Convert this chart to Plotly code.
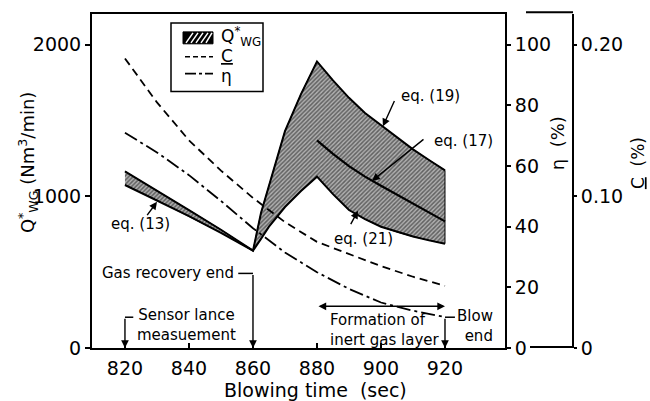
import plotly.graph_objects as go

# ---------------- data ----------------
# eq.(13) band, 820-860 s  [Nm3/min]
t13 = [820, 830, 840, 850, 860]
q13_upper = [1165, 1040, 910, 780, 642]
q13_lower = [1075, 975, 870, 760, 642]
# rising band after gas recovery end, 860-880 s
t_rise = [860, 862.5, 865, 870, 875, 880]
q_rise_upper = [642, 890, 1075, 1430, 1675, 1890]
q_rise_lower = [642, 720, 800, 930, 1035, 1130]
# band during inert gas layer formation, 880-920 s
t_post = [880, 885, 890, 895, 900, 905, 910, 915, 920]
q19 = [1890, 1765, 1650, 1550, 1470, 1395, 1310, 1240, 1172]
q17 = [1370, 1280, 1200, 1130, 1070, 1010, 950, 890, 835]
q21 = [1130, 1015, 910, 850, 800, 765, 735, 710, 688]
# C (%) and eta (%)
t_line = [820, 830, 840, 850, 860, 870, 880, 890, 900, 910, 920]
c_pct = [0.191, 0.162, 0.137, 0.117, 0.099, 0.083, 0.070, 0.062, 0.054, 0.047, 0.041]
eta_pct = [71, 64.5, 57, 48.5, 39.5, 31.5, 25, 19.5, 15, 12.3, 10.2]

x_ticks = [820, 840, 860, 880, 900, 920]
q_ticks = [0, 1000, 2000]
eta_ticks = [0, 20, 40, 60, 80, 100]
c_ticks = [0, 0.10, 0.20]
c_ticktext = ["0", "0.10", "0.20"]

legend_labels = ["Q<sup>*</sup><sub>WG</sub>", "<u>C</u>", "η"]

# ---------------- figure ----------------
FONT = "DejaVu Sans"
upper_t = t13 + t_rise + t_post
upper_q = q13_upper + q_rise_upper + q19
lower_t = t13 + t_rise + t_post
lower_q = q13_lower + q_rise_lower + q21

C_DASH = "8px,5px"
ETA_DASH = "14px,4px,3px,4px"

fig = go.Figure()
fig.add_trace(go.Scatter(
    x=upper_t + lower_t[::-1], y=upper_q + lower_q[::-1],
    fill="toself", mode="lines",
    line=dict(color="black", width=1),
    fillcolor="#b0b0b0",
    fillpattern=dict(shape="/", size=3, solidity=0.5, fgcolor="#111111", bgcolor="#b0b0b0"),
    name=legend_labels[0], showlegend=False, hoverinfo="skip"))
fig.add_trace(go.Scatter(x=upper_t, y=upper_q, mode="lines",
                         line=dict(color="black", width=2), showlegend=False))
fig.add_trace(go.Scatter(x=lower_t, y=lower_q, mode="lines",
                         line=dict(color="black", width=2), showlegend=False))
fig.add_trace(go.Scatter(x=t_post, y=q17, mode="lines",
                         line=dict(color="black", width=2.2), showlegend=False))
fig.add_trace(go.Scatter(x=t_line, y=c_pct, mode="lines", yaxis="y3",
                         line=dict(color="black", width=1.8, dash=C_DASH),
                         name=legend_labels[1], showlegend=False))
fig.add_trace(go.Scatter(x=t_line, y=eta_pct, mode="lines", yaxis="y2",
                         line=dict(color="black", width=1.8, dash=ETA_DASH),
                         name=legend_labels[2], showlegend=False))

QMAX = 2203
PW, PH, L, T = 528, 336, 92, 12
XDOM = 413 / PW
CPOS = (573 - L) / PW


def px(x):
    return (x - L) / PW


def py(y):
    return (T + PH - y) / PH


TICKFONT = dict(family=FONT, size=19, color="black")
fig.update_layout(
    width=650, height=401,
    margin=dict(l=L, r=30, t=T, b=53),
    paper_bgcolor="white", plot_bgcolor="white",
    font=dict(family=FONT, size=18, color="black"),
    showlegend=False,
    xaxis=dict(domain=[0, XDOM], range=[809.7, 938.75], tickvals=x_ticks, tickfont=TICKFONT,
               showline=True, linewidth=2, linecolor="black", mirror=True,
               ticks="inside", ticklen=5, tickwidth=1.5, tickcolor="black",
               ticklabelstandoff=2, showgrid=False, zeroline=False),
    yaxis=dict(range=[0, QMAX], tickvals=q_ticks, tickfont=TICKFONT,
               showline=True, linewidth=2, linecolor="black",
               ticks="outside", ticklen=5, tickwidth=1.5, tickcolor="black",
               showgrid=False, zeroline=False),
    yaxis2=dict(range=[0, QMAX / 20], tickvals=eta_ticks, overlaying="y", side="right",
                anchor="x", showline=True, linewidth=2, linecolor="black", tickfont=TICKFONT,
                ticks="outside", ticklen=4, tickwidth=1.5, tickcolor="black",
                showgrid=False, zeroline=False),
    yaxis3=dict(range=[0, QMAX / 10000], tickvals=c_ticks, ticktext=c_ticktext,
                overlaying="y", side="right", anchor="free", position=CPOS, tickfont=TICKFONT,
                showline=True, linewidth=2, linecolor="black",
                ticks="outside", ticklen=3, tickwidth=1.5, tickcolor="black",
                showgrid=False, zeroline=False),
)

# bracket ends of the C axis
fig.add_shape(type="line", xref="paper", yref="paper", x0=px(526), x1=CPOS,
              y0=1.005, y1=1.005, line=dict(color="black", width=2))
fig.add_shape(type="line", xref="paper", yref="paper", x0=px(530), x1=CPOS,
              y0=0.003, y1=0.003, line=dict(color="black", width=2))

# ---------------- legend box ----------------
fig.add_shape(type="rect", xref="paper", yref="paper", x0=px(171), x1=px(263),
              y0=py(90), y1=py(21), fillcolor="white", line=dict(color="black", width=1.5))
fig.add_shape(type="rect", xref="paper", yref="paper", x0=px(183), x1=px(213),
              y0=py(42), y1=py(30), fillcolor="black", line=dict(color="black", width=1))
for k in range(5):
    x0 = 186 + 5 * k
    fig.add_shape(type="line", xref="paper", yref="paper",
                  x0=px(x0), x1=px(min(x0 + 7, 212)), y0=py(41), y1=py(31),
                  line=dict(color="white", width=1.5))
fig.add_shape(type="line", xref="paper", yref="paper", x0=px(185), x1=px(213),
              y0=py(55), y1=py(55), line=dict(color="black", width=1.6, dash="5px,3px"))
fig.add_shape(type="line", xref="paper", yref="paper", x0=px(185), x1=px(213),
              y0=py(72), y1=py(72), line=dict(color="black", width=1.6, dash="11px,3px,3px,3px"))
for lab, yy in zip(legend_labels, [35, 54, 74]):
    fig.add_annotation(xref="paper", yref="paper", x=px(219), y=py(yy), text=lab,
                       xanchor="left", yanchor="middle", showarrow=False,
                       font=dict(size=17))


# ---------------- axis titles ----------------
def ptext(x, y, text, angle=0, size=18):
    fig.add_annotation(xref="paper", yref="paper", x=px(x), y=py(y), text=text,
                       textangle=angle, xanchor="center", yanchor="middle",
                       showarrow=False, font=dict(size=size))


ptext(28, 162, "Q<sup>*</sup><sub>WG</sub> (Nm<sup>3</sup>/min)", -90)
ptext(557, 142, "η\u00a0 (%)", -90)
ptext(638, 162, "<u>C</u>\u00a0 (%)", -90, size=17)
ptext(315, 390, "Blowing time\u00a0 (sec)", size=19)

AF = dict(size=15)


def label(x, y, text, **kw):
    fig.add_annotation(x=x, y=y, xref="x", yref="y", text=text, showarrow=False,
                       font=AF, **kw)


def arrow(x, y, ax, ay, side="end"):
    fig.add_annotation(x=x, y=y, ax=ax, ay=ay, xref="x", yref="y", axref="x", ayref="y",
                       text="", showarrow=True, arrowhead=2, arrowsize=1.1,
                       arrowwidth=1.4, arrowcolor="black", arrowside=side, standoff=0,
                       startstandoff=0)


# equation labels
label(825.0, 815, "eq. (13)")
arrow(830.0, 964, 826.6, 866)
label(915.6, 1659, "eq. (19)")
arrow(900.6, 1462, 904.4, 1639)
label(925.9, 1364, "eq. (17)")
arrow(897.2, 1102, 913.75, 1384)
label(894.4, 721, "eq. (21)")
arrow(892.8, 905, 890.3, 807)

# event labels
label(854.6, 492, "Gas recovery end", xanchor="right")
fig.add_shape(type="line", xref="x", yref="y", x0=855.4, x1=860, y0=492, y1=492,
              line=dict(color="black", width=1.5))
arrow(860, 0, 860, 492)

label(823.2, 154, "Sensor lance<br>measuement", xanchor="left")
fig.add_shape(type="line", xref="x", yref="y", x0=820, x1=822.6, y0=203, y1=203,
              line=dict(color="black", width=1.5))
arrow(820, 0, 820, 203)

label(883.4, 118, "Formation of<br>inert gas layer", xanchor="left", align="left")
arrow(920, 275, 880, 275, side="end+start")

label(935.6, 144, "Blow<br>end", xanchor="right", align="right")
fig.add_shape(type="line", xref="x", yref="y", x0=920, x1=923.1, y0=203, y1=203,
              line=dict(color="black", width=1.5))
arrow(920, 0, 920, 203)

fig.write_html("out.html")
